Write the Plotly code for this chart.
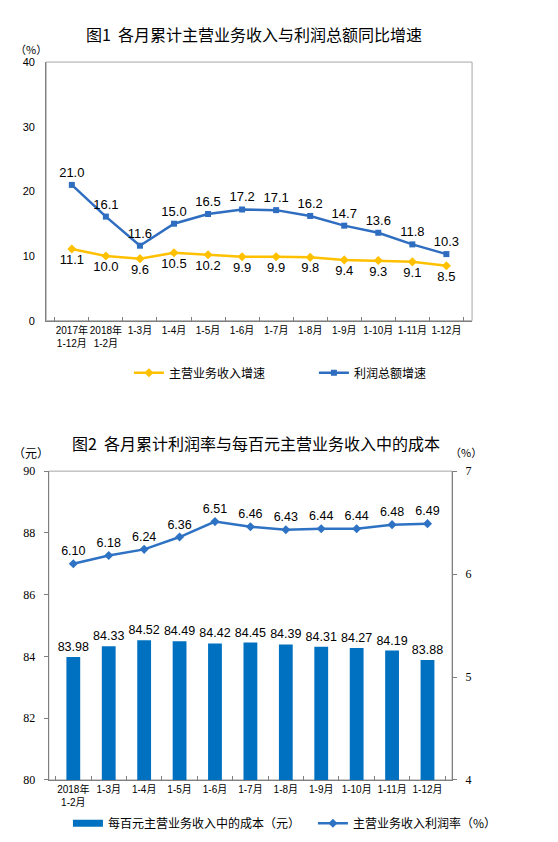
import plotly.graph_objects as go

W, H = 558, 842

# ---------------- data ----------------
months1 = ["2017年<br>1-12月", "2018年<br>1-2月", "1-3月", "1-4月", "1-5月", "1-6月",
           "1-7月", "1-8月", "1-9月", "1-10月", "1-11月", "1-12月"]
revenue_growth = [11.1, 10.0, 9.6, 10.5, 10.2, 9.9, 9.9, 9.8, 9.4, 9.3, 9.1, 8.5]
profit_growth = [21.0, 16.1, 11.6, 15.0, 16.5, 17.2, 17.1, 16.2, 14.7, 13.6, 11.8, 10.3]

months2 = ["2018年<br>1-2月", "1-3月", "1-4月", "1-5月", "1-6月", "1-7月",
           "1-8月", "1-9月", "1-10月", "1-11月", "1-12月"]
cost_per_100 = [83.98, 84.33, 84.52, 84.49, 84.42, 84.45, 84.39, 84.31, 84.27, 84.19, 83.88]
profit_margin = [6.10, 6.18, 6.24, 6.36, 6.51, 6.46, 6.43, 6.44, 6.44, 6.48, 6.49]

title1 = "图1  各月累计主营业务收入与利润总额同比增速"
title2 = "图2  各月累计利润率与每百元主营业务收入中的成本"

# ---------------- helpers ----------------
def px(x):
    return x / W

def py(y):
    return 1 - y / H

CJK = "Noto Sans CJK SC"
TICKX = "Liberation Sans, Noto Sans CJK SC"
SANS = "Liberation Sans, Arial"
SERIF = "Liberation Serif, Times New Roman"

BLUE1 = "#2E6DBF"
YELLOW = "#FFC000"
BAR = "#0070C0"
BLUE2 = "#2E72C4"
LBL1 = dict(family=SANS, size=13, color="#000")
LBL2 = dict(family=SANS, size=12.5, color="#000")

fig = go.Figure()

# ---------------- chart 1 ----------------
fig.add_trace(go.Scatter(
    x=months1, y=revenue_growth, name="主营业务收入增速",
    mode="lines+markers+text", text=[f"{v:.1f}" for v in revenue_growth],
    textposition="bottom center", textfont=LBL1,
    line=dict(color=YELLOW, width=2.5), marker=dict(symbol="diamond", size=7, color=YELLOW),
    xaxis="x", yaxis="y", legend="legend", cliponaxis=False))
fig.add_trace(go.Scatter(
    x=months1, y=profit_growth, name="利润总额增速",
    mode="lines+markers+text", text=[f"{v:.1f}" for v in profit_growth],
    textposition="top center", textfont=LBL1,
    line=dict(color=BLUE1, width=2.5), marker=dict(symbol="square", size=6, color=BLUE1),
    xaxis="x", yaxis="y", legend="legend", cliponaxis=False))

# ---------------- chart 2 ----------------
fig.add_trace(go.Bar(
    x=months2, y=cost_per_100, name="每百元主营业务收入中的成本（元）",
    marker=dict(color=BAR, line=dict(width=0)), width=0.39,
    text=[f"{v:.2f}" for v in cost_per_100], textposition="outside",
    textfont=LBL2, constraintext="none",
    xaxis="x2", yaxis="y2", showlegend=False, cliponaxis=False))
fig.add_trace(go.Scatter(
    x=[None], y=[None], name="每百元主营业务收入中的成本（元）", mode="lines",
    line=dict(color=BAR, width=7), xaxis="x2", yaxis="y2", legend="legend2"))
fig.add_trace(go.Scatter(
    x=months2, y=profit_margin, name="主营业务收入利润率（%）",
    mode="lines+markers+text", text=[f"{v:.2f}" for v in profit_margin],
    textposition="top center", textfont=LBL2,
    line=dict(color=BLUE2, width=2.5), marker=dict(symbol="diamond", size=7, color=BLUE2),
    xaxis="x2", yaxis="y3", legend="legend2", cliponaxis=False))

AX = "#7F7F7F"

fig.update_layout(
    width=W, height=H, margin=dict(l=0, r=0, t=0, b=0),
    paper_bgcolor="white", plot_bgcolor="white",
    font=dict(family=CJK, size=11, color="#000"),
    xaxis=dict(domain=[px(53), px(542)], anchor="y", type="category",
               showline=True, linecolor=AX, linewidth=1, showgrid=False,
               ticks="inside", tickson="boundaries", ticklen=4, tickcolor=AX,
               tickangle=0, tickfont=dict(family=TICKX, size=10)),
    yaxis=dict(domain=[py(319), py(56)], anchor="x", range=[0, 40], dtick=10,
               showline=True, linecolor=AX, linewidth=1, showgrid=False, zeroline=False,
               ticks="", tickfont=dict(family=SANS, size=11), ticklabelstandoff=8),
    xaxis2=dict(domain=[px(56), px(519)], anchor="y2", type="category",
                showline=True, linecolor=AX, linewidth=1, showgrid=False,
                ticks="inside", tickson="boundaries", ticklen=4, tickcolor=AX,
                tickangle=0, tickfont=dict(family=TICKX, size=10)),
    yaxis2=dict(domain=[py(786), py(472)], anchor="x2", range=[80, 90], dtick=2,
                showline=True, linecolor=AX, linewidth=1, showgrid=False, zeroline=False,
                ticks="outside", ticklen=4, tickcolor=AX,
                tickfont=dict(family=SERIF, size=12), ticklabelstandoff=6),
    yaxis3=dict(overlaying="y2", side="right", anchor="x2", range=[4, 7], dtick=1,
                showline=True, linecolor=AX, linewidth=1, showgrid=False, zeroline=False,
                ticks="outside", ticklen=4, tickcolor=AX,
                tickfont=dict(family=SERIF, size=12), ticklabelstandoff=6),
    legend=dict(orientation="h", x=px(148), xanchor="left", y=py(372), yanchor="middle",
                font=dict(family=CJK, size=12), bgcolor="rgba(0,0,0,0)",
                entrywidth=140, itemwidth=30, traceorder="normal"),
    legend2=dict(orientation="h", x=px(78), xanchor="left", y=py(830), yanchor="middle",
                 font=dict(family=CJK, size=12), bgcolor="rgba(0,0,0,0)",
                 entrywidth=200, itemwidth=30, traceorder="normal"),
    shapes=[
        dict(type="rect", xref="x domain", yref="y domain", x0=0, x1=1, y0=0, y1=1,
             line=dict(color="#A6A6A6", width=1), layer="below"),
        dict(type="rect", xref="x2 domain", yref="y2 domain", x0=0, x1=1, y0=0, y1=1,
             line=dict(color="#A6A6A6", width=1), layer="below"),
    ],
    annotations=[
        dict(text=title1, x=px(292), y=py(27), xref="paper", yref="paper",
             showarrow=False, font=dict(family=CJK, size=16), xanchor="center", yanchor="middle"),
        dict(text="（%）", x=px(36), y=py(43), xref="paper", yref="paper",
             showarrow=False, font=dict(family=CJK, size=11), xanchor="center", yanchor="middle"),
        dict(text=title2, x=px(294), y=py(443), xref="paper", yref="paper",
             showarrow=False, font=dict(family=CJK, size=16), xanchor="center", yanchor="middle"),
        dict(text="（元）", x=px(36), y=py(453), xref="paper", yref="paper",
             showarrow=False, font=dict(family=CJK, size=12), xanchor="center", yanchor="middle"),
        dict(text="（%）", x=px(535), y=py(453), xref="paper", yref="paper",
             showarrow=False, font=dict(family=CJK, size=11), xanchor="center", yanchor="middle"),
    ],
)

fig.write_html("out.html", config={"displayModeBar": False},
               post_script="document.body.style.margin='0';document.body.style.overflow='hidden';")
